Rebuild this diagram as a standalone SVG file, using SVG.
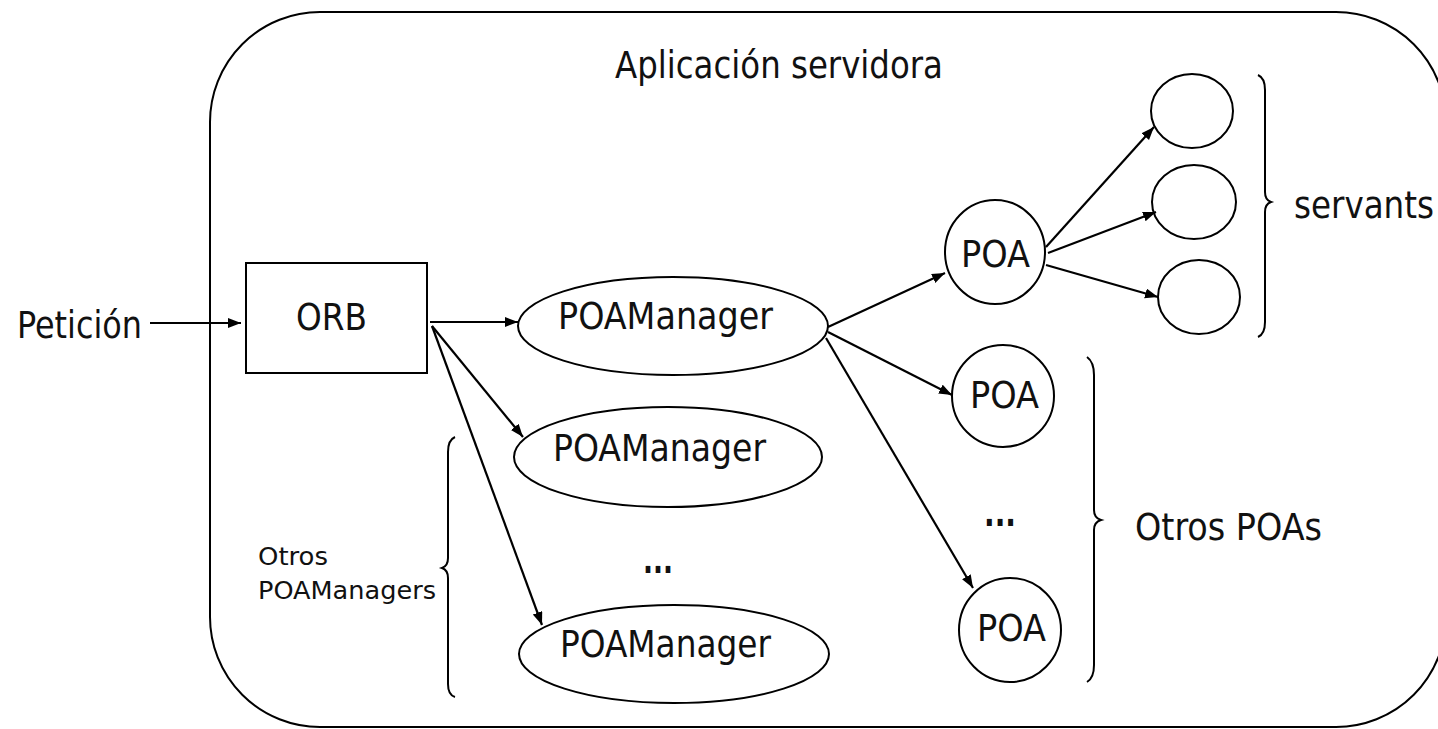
<svg xmlns="http://www.w3.org/2000/svg" width="1438" height="729" viewBox="0 0 1438 729">
<defs>
<marker id="ah" markerUnits="userSpaceOnUse" markerWidth="16" markerHeight="12" refX="13" refY="5" orient="auto">
<path d="M0,0 L13,5 L0,10 Z" fill="#000"/>
</marker>
<style>
.s{fill:none;stroke:#000;stroke-width:2}
.t{font-family:"DejaVu Sans Condensed","DejaVu Sans","Liberation Sans",sans-serif;font-size:37px;fill:#111}
.sm{font-size:25px}
.b{font-weight:bold}
.e{fill:none;stroke:#000;stroke-width:2.2;marker-end:url(#ah)}
</style>
</defs>
<rect width="1438" height="729" fill="#fff"/>
<g id="app">
<rect x="210" y="12" width="1236" height="715" rx="110" ry="110" class="s"/>
<text x="615" y="78" class="t" textLength="328" lengthAdjust="spacingAndGlyphs">Aplicación servidora</text>
</g>
<g id="peticion">
<text x="17" y="338" class="t" textLength="125" lengthAdjust="spacingAndGlyphs">Petición</text>
</g>
<g id="orb">
<rect x="246" y="263" width="181" height="110" class="s"/>
<text x="296" y="330" class="t" textLength="71" lengthAdjust="spacingAndGlyphs">ORB</text>
</g>
<g id="pm1">
<ellipse cx="673" cy="326" rx="155" ry="49" class="s"/>
<text x="558" y="329" class="t" textLength="215" lengthAdjust="spacingAndGlyphs">POAManager</text>
</g>
<g id="pm2">
<ellipse cx="668" cy="457" rx="154" ry="50" class="s"/>
<text x="553" y="461" class="t" textLength="213" lengthAdjust="spacingAndGlyphs">POAManager</text>
</g>
<g id="pmdots">
<text x="643" y="573" class="t b" textLength="30" lengthAdjust="spacingAndGlyphs">...</text>
</g>
<g id="pm3">
<ellipse cx="674" cy="654" rx="155" ry="49" class="s"/>
<text x="560" y="657" class="t" textLength="211" lengthAdjust="spacingAndGlyphs">POAManager</text>
</g>
<g id="otrospm">
<path d="M455,437 Q448,440 448,452 L448,558 Q448,566 442,568 Q448,570 448,578 L448,684 Q448,695 455,697" class="s"/>
<text x="258" y="565" class="t sm" textLength="70" lengthAdjust="spacingAndGlyphs">Otros</text>
<text x="258" y="599" class="t sm" textLength="178" lengthAdjust="spacingAndGlyphs">POAManagers</text>
</g>
<g id="poa1">
<ellipse cx="995" cy="252" rx="50" ry="52" class="s"/>
<text x="961" y="267" class="t" textLength="69" lengthAdjust="spacingAndGlyphs">POA</text>
</g>
<g id="poa2">
<ellipse cx="1003" cy="396" rx="51" ry="51" class="s"/>
<text x="970" y="408" class="t" textLength="69" lengthAdjust="spacingAndGlyphs">POA</text>
</g>
<g id="poadots">
<text x="984" y="526" class="t b" textLength="32" lengthAdjust="spacingAndGlyphs">...</text>
</g>
<g id="poa3">
<ellipse cx="1010" cy="630" rx="51" ry="52" class="s"/>
<text x="977" y="641" class="t" textLength="69" lengthAdjust="spacingAndGlyphs">POA</text>
</g>
<g id="otrospoa">
<path d="M1087,357 Q1094,362 1094,375 L1094,510 Q1094,518 1101,520 Q1094,522 1094,530 L1094,665 Q1094,678 1087,682" class="s"/>
<text x="1135" y="540" class="t" textLength="187" lengthAdjust="spacingAndGlyphs">Otros POAs</text>
</g>
<g id="servant1"><ellipse cx="1192" cy="111" rx="41" ry="37" class="s"/></g>
<g id="servant2"><ellipse cx="1194" cy="202" rx="42" ry="37" class="s"/></g>
<g id="servant3"><ellipse cx="1199" cy="297" rx="41" ry="37" class="s"/></g>
<g id="servants">
<path d="M1258,75 Q1265,78 1265,90 L1265,192 Q1265,200 1271,202 Q1265,204 1265,212 L1265,322 Q1265,334 1258,337" class="s"/>
<text x="1294" y="218" class="t" textLength="140" lengthAdjust="spacingAndGlyphs">servants</text>
</g>
<g id="connectors">
<line x1="150" y1="323" x2="241" y2="323" class="e"/>
<line x1="430" y1="322" x2="518" y2="322" class="e"/>
<line x1="432" y1="326" x2="523" y2="437" class="e"/>
<line x1="432" y1="326" x2="542" y2="625" class="e"/>
<line x1="828" y1="327" x2="945" y2="273" class="e"/>
<line x1="828" y1="332" x2="952" y2="395" class="e"/>
<line x1="826" y1="338" x2="973" y2="588" class="e"/>
<line x1="1046" y1="247" x2="1154" y2="127" class="e"/>
<line x1="1048" y1="253" x2="1156" y2="212" class="e"/>
<line x1="1046" y1="265" x2="1158" y2="297" class="e"/>
</g>
</svg>
